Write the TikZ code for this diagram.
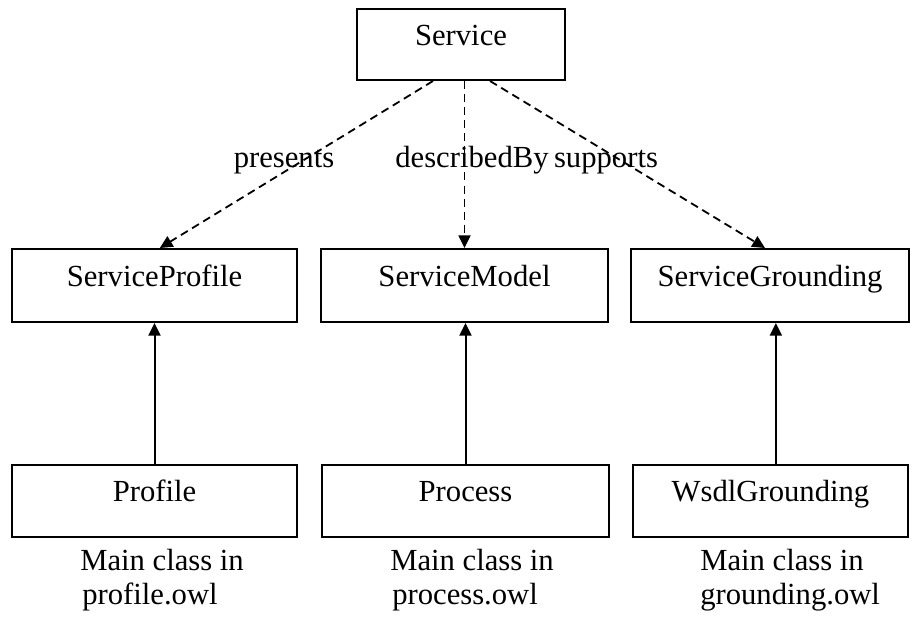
\documentclass[tikz,border=0pt]{standalone}
\usepackage{fontspec}
\setmainfont{Liberation Serif}
\usetikzlibrary{arrows.meta}
\begin{document}
\begin{tikzpicture}[x=0.75pt,y=-0.75pt,
  every node/.style={font=\fontsize{23}{27}\selectfont},
  box/.style={draw, line width=1.5pt, inner sep=0pt, text height=0.72em, text depth=0.62em},
  dasharrow/.style={line width=1.35pt, dash pattern=on 6pt off 3.8pt, -{Triangle[length=9.5pt,width=9pt]}},
  solidarrow/.style={line width=1.5pt, -{Triangle[length=9.5pt,width=9pt]}},
  lbl/.style={anchor=base, inner sep=0pt},
  captxt/.style={anchor=base west, inner sep=0pt}]
\useasboundingbox (0,0) rectangle (912,617);
% boxes
\node[box, minimum width=156pt, minimum height=53.25pt] (svc) at (461,44.5) {Service};
\node[box, minimum width=213.75pt, minimum height=54.75pt] (sp) at (154.5,285.5) {ServiceProfile};
\node[box, minimum width=215.25pt, minimum height=54.75pt] (sm) at (464.5,285.5) {ServiceModel};
\node[box, minimum width=208.5pt, minimum height=54.75pt] (sg) at (770,285.5) {ServiceGrounding};
\node[box, minimum width=213.75pt, minimum height=54pt] (pf) at (154.5,501) {Profile};
\node[box, minimum width=215.25pt, minimum height=54pt] (pc) at (465.5,501) {Process};
\node[box, minimum width=206.25pt, minimum height=54pt] (wg) at (770.5,501) {WsdlGrounding};
% dashed relations
\draw[dasharrow] ([xshift=-21pt]svc.south) -- ([xshift=4pt]sp.north);
\draw[dasharrow] (svc.south -| sm.north) -- (sm.north);
\draw[dasharrow] ([xshift=21.75pt]svc.south) -- ([xshift=-3.75pt]sg.north);
% labels
\node[lbl] (l1) at (284,167) {presents};
\node[lbl] (l2) at (472,167) {describedBy};
\node[lbl] (l3) at (606,167) {supports};
% solid arrows
\draw[solidarrow] (pf.north) -- (sp.south);
\draw[solidarrow] (pc.north) -- (pc.north |- sm.south);
\coordinate (wgt) at ([xshift=4pt]wg.north);
\draw[solidarrow] (wgt) -- (wgt |- sg.south);
% captions
\node[captxt] (c1a) at (80,570) {Main class in};
\node[captxt] (c1b) at (82,604) {profile.owl};
\node[captxt] (c2a) at (390,570) {Main class in};
\node[captxt] (c2b) at (392,604) {process.owl};
\node[captxt] (c3a) at (700,570) {Main class in};
\node[captxt] (c3b) at (700,604) {grounding.owl};
\end{tikzpicture}
\end{document}
